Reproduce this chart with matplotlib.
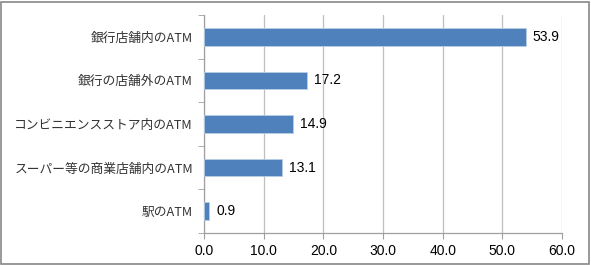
import matplotlib
matplotlib.use("Agg")
import matplotlib.pyplot as plt
from matplotlib.patches import Rectangle

categories = ["銀行店舗内のATM", "銀行の店舗外のATM", "コンビニエンスストア内のATM",
              "スーパー等の商業店舗内のATM", "駅のATM"]
values = [53.9, 17.2, 14.9, 13.1, 0.9]
xticks = [0, 10, 20, 30, 40, 50, 60]

plt.rcParams['font.family'] = ['Liberation Sans', 'Noto Sans CJK JP', 'DejaVu Sans']

fig = plt.figure(figsize=(5.91, 2.65), dpi=100)
ax = fig.add_axes([204/591, 1 - 233/265, (562-204)/591, (233-15)/265])

ypos = list(range(len(categories)))[::-1]
ax.barh(ypos, values, height=0.4, color='#4F81BD', edgecolor='#B9CDE5', linewidth=0.6, zorder=3)
for y, v in zip(ypos, values):
    ax.text(v + 1.2, y, f"{v:.1f}", va='center', ha='left', fontsize=10, color='#000000')

ax.set_xlim(0, 60)
ax.set_ylim(-0.5, len(categories) - 0.5)
ax.set_xticks(xticks)
ax.set_xticklabels([f"{t:.1f}" for t in xticks], fontsize=10)
ax.set_yticks(ypos)
ax.set_yticklabels(categories, fontsize=9.2, family=['Noto Sans CJK JP', 'DejaVu Sans'], color='#333333')
ax.tick_params(axis='y', length=0, pad=8)
ax.tick_params(axis='x', length=4, color='#A0A0A0', pad=4)
# category boundary ticks
ax.set_yticks([i - 0.5 for i in range(len(categories) + 1)], minor=True)
ax.tick_params(axis='y', which='minor', length=4, color='#A0A0A0')

ax.grid(axis='x', color='#BFBFBF', linewidth=0.9, zorder=0)
for s in ['top', 'right']:
    ax.spines[s].set_visible(False)
for s in ['left', 'bottom']:
    ax.spines[s].set_color('#A0A0A0')
    ax.spines[s].set_linewidth(0.9)

fig.patches.append(Rectangle((0.002, 0.004), 0.994, 0.99, transform=fig.transFigure,
                             fill=False, edgecolor='#888888', linewidth=1.2))

fig.savefig("out.png", dpi=100)
